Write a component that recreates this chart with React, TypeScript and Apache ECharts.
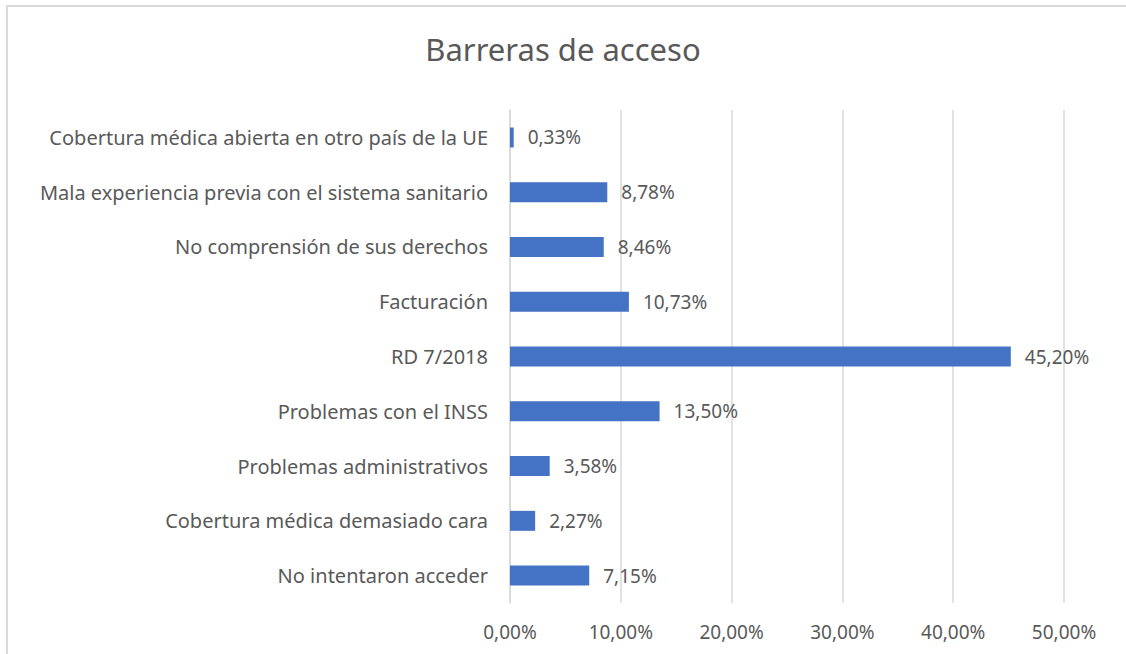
import React, { useEffect, useRef } from "react";
import * as echarts from "echarts";

const categories = [
  "No intentaron acceder",
  "Cobertura médica demasiado cara",
  "Problemas administrativos",
  "Problemas con el INSS",
  "RD 7/2018",
  "Facturación",
  "No comprensión de sus derechos",
  "Mala experiencia previa con el sistema sanitario",
  "Cobertura médica abierta en otro país de la UE",
];
const values = [7.15, 2.27, 3.58, 13.5, 45.2, 10.73, 8.46, 8.78, 0.33];
const titleText = "Barreras de acceso";

const fmt = (v: number) => v.toFixed(2).replace(".", ",") + "%";

export default function App() {
  const ref = useRef<HTMLDivElement>(null);
  useEffect(() => {
    if (!ref.current) return;
    const chart = echarts.init(ref.current, null, { renderer: "svg" });
    const font = "'Noto Sans', sans-serif";
    chart.setOption({
      animation: false,
      backgroundColor: "#ffffff",
      textStyle: { fontFamily: font },
      title: {
        text: titleText,
        left: "center",
        top: 28,
        textStyle: { fontSize: 31, fontWeight: "normal", color: "#595959", fontFamily: font },
      },
      graphic: [
        {
          type: "rect",
          shape: { x: 7, y: 6, width: 1300, height: 800 },
          style: { fill: "none", stroke: "#d9d9d9", lineWidth: 2 },
          silent: true,
        },
      ],
      grid: { left: 510, right: 62, top: 110, bottom: 51, containLabel: false },
      xAxis: {
        type: "value",
        min: 0,
        max: 50,
        interval: 10,
        axisLine: { show: false },
        axisTick: { show: false },
        splitLine: { show: true, lineStyle: { color: "#d9d9d9", width: 1.5 } },
        axisLabel: {
          formatter: (v: number) => fmt(v),
          color: "#595959",
          fontSize: 19,
          margin: 19,
          fontFamily: font,
        },
      },
      yAxis: {
        type: "category",
        data: categories,
        axisLine: { show: true, lineStyle: { color: "#d9d9d9", width: 1.5 } },
        axisTick: { show: false },
        axisLabel: { color: "#595959", fontSize: 20, margin: 22, fontFamily: font },
      },
      series: [
        {
          type: "bar",
          data: values,
          barWidth: 20,
          itemStyle: { color: "#4472C4" },
          label: {
            show: true,
            position: "right",
            distance: 14,
            formatter: (p: any) => fmt(p.value),
            color: "#595959",
            fontSize: 19,
            fontFamily: font,
          },
        },
      ],
    });
    return () => chart.dispose();
  }, []);
  return (
    <div
      ref={ref}
      style={{ position: "absolute", left: 0, top: 0, width: 1126, height: 654, background: "#fff" }}
    />
  );
}
